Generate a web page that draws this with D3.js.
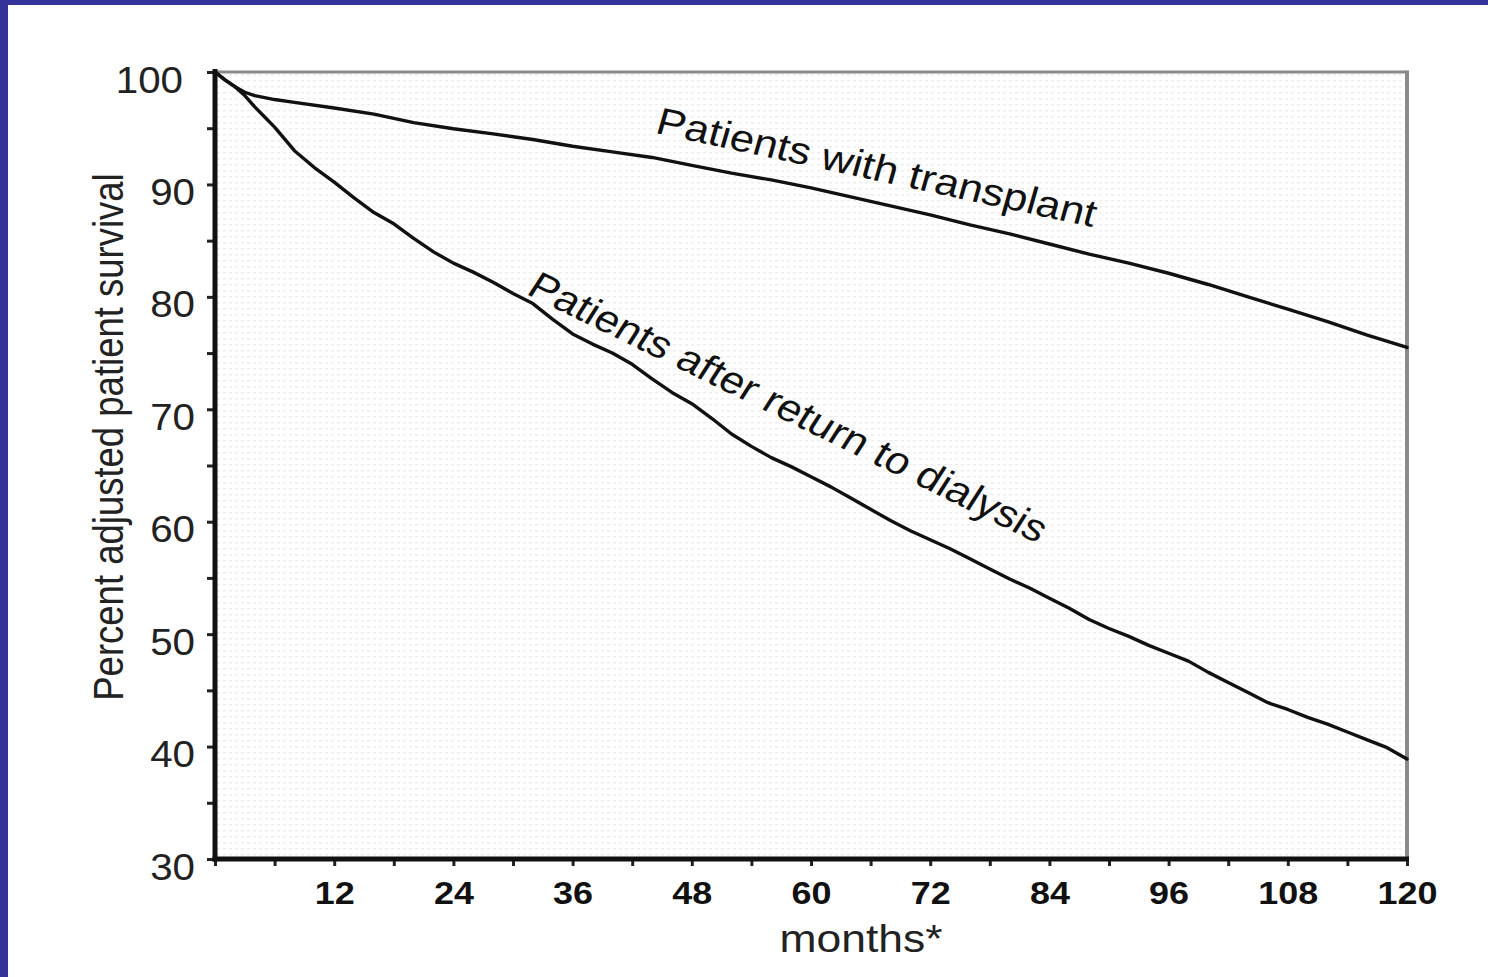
<!DOCTYPE html>
<html>
<head>
<meta charset="utf-8">
<script src="https://cdn.jsdelivr.net/npm/d3@7/dist/d3.min.js"></script>
<style>
  html, body { margin: 0; padding: 0; background: #fff; }
  svg { display: block; }
  text { font-family: "Liberation Sans", Arial, sans-serif; }
</style>
</head>
<body>
<svg id="chart" width="1488" height="977"></svg>
<script>
// ---- data ----
const transplantMonths   = [0, 1, 2, 3, 4, 6, 8, 12, 16, 20, 24, 28, 32, 36, 40, 44, 48, 52, 56, 60, 64, 68, 72, 76, 80, 84, 88, 92, 96, 100, 104, 108, 112, 116, 120];
const transplantSurvival = [100, 99.3, 98.7, 98.2, 97.9, 97.55, 97.3, 96.8, 96.25, 95.5, 94.95, 94.5, 94.0, 93.4, 92.9, 92.4, 91.7, 91.0, 90.4, 89.7, 88.9, 88.1, 87.3, 86.4, 85.6, 84.7, 83.8, 83.0, 82.1, 81.1, 80.0, 78.9, 77.8, 76.6, 75.5];

const dialysisMonths   = [0, 1, 2, 3, 4, 5, 6, 8, 10, 12, 14, 16, 18, 20, 22, 24, 26, 28, 30, 32, 34, 36, 38, 40, 42, 44, 46, 48, 50, 52, 54, 56, 58, 60, 62, 64, 66, 68, 70, 72, 74, 76, 78, 80, 82, 84, 86, 88, 90, 92, 94, 96, 98, 100, 102, 104, 106, 108, 110, 112, 114, 116, 118, 120];
const dialysisSurvival = [100, 99.3, 98.7, 97.9, 96.9, 96.0, 95.1, 93.0, 91.5, 90.2, 88.8, 87.5, 86.5, 85.2, 84.0, 83.0, 82.2, 81.3, 80.3, 79.4, 78.0, 76.7, 75.8, 75.0, 74.0, 72.7, 71.5, 70.5, 69.2, 67.8, 66.7, 65.7, 64.9, 64.0, 63.1, 62.1, 61.1, 60.1, 59.2, 58.4, 57.6, 56.7, 55.8, 54.9, 54.1, 53.2, 52.3, 51.3, 50.5, 49.8, 49.0, 48.3, 47.6, 46.6, 45.7, 44.8, 43.9, 43.3, 42.6, 42.0, 41.3, 40.6, 39.9, 38.9];

const seriesNames = ["Patients with transplant", "Patients after return to dialysis"];

const xTickLabels = [12, 24, 36, 48, 60, 72, 84, 96, 108, 120];
const xTickMarks  = [0, 6, 12, 18, 24, 30, 36, 42, 48, 54, 60, 66, 72, 78, 84, 90, 96, 102, 108, 114, 120];
const yTickLabels = [30, 40, 50, 60, 70, 80, 90, 100];
const yTickMarks  = [30, 35, 40, 45, 50, 55, 60, 65, 70, 75, 80, 85, 90, 95, 100];

const xTitle = "months*";
const yTitle = "Percent adjusted patient survival";

// ---- layout ----
const SX = 1.15; // horizontal stretch of the original picture
const svg = d3.select("#chart");
const pLeft = 215, pRight = 1407, pTop = 72, pBottom = 859;

const x = d3.scaleLinear().domain([0, 120]).range([pLeft, pRight]);
const y = d3.scaleLinear().domain([30, 100]).range([pBottom, pTop]);

// blue frame
svg.append("rect").attr("x", 0).attr("y", 0).attr("width", 8).attr("height", 977).attr("fill", "#333399");
svg.append("rect").attr("x", 0).attr("y", 0).attr("width", 1488).attr("height", 5).attr("fill", "#333399");

// dotted plot background
const defs = svg.append("defs");
const pat = defs.append("pattern").attr("id", "dots").attr("patternUnits", "userSpaceOnUse")
  .attr("width", 6).attr("height", 6);
pat.append("rect").attr("width", 6).attr("height", 6).attr("fill", "#ffffff");
pat.append("rect").attr("x", 1).attr("y", 2).attr("width", 3).attr("height", 1.5).attr("fill", "#ededed");
svg.append("rect").attr("x", pLeft).attr("y", pTop).attr("width", pRight - pLeft).attr("height", pBottom - pTop)
  .attr("fill", "url(#dots)");

// grey top and right frame
svg.append("line").attr("x1", pLeft).attr("x2", pRight).attr("y1", pTop).attr("y2", pTop)
  .attr("stroke", "#8a8a8a").attr("stroke-width", 3);
svg.append("line").attr("x1", pRight).attr("x2", pRight).attr("y1", pTop - 1.5).attr("y2", pBottom)
  .attr("stroke", "#8a8a8a").attr("stroke-width", 4);

// y axis
const yAxisG = svg.append("g").attr("transform", `translate(${pLeft},0)`)
  .call(d3.axisLeft(y).tickValues(yTickMarks).tickSize(8).tickFormat(""));
yAxisG.select(".domain").remove();
yAxisG.selectAll(".tick line").attr("stroke", "#222").attr("stroke-width", 3);

const yLab = svg.append("g").attr("transform", `translate(${pLeft},0)`)
  .call(d3.axisLeft(y).tickValues(yTickLabels).tickSize(0).tickFormat(d3.format("d")));
yLab.select(".domain").remove();
yLab.selectAll(".tick line").remove();
yLab.selectAll(".tick text")
  .attr("x", 0).attr("dy", null).attr("y", 0)
  .attr("transform", d => `translate(${d >= 100 ? -32 : -20},20) scale(1.09,1)`)
  .attr("text-anchor", "end")
  .attr("font-size", 37).attr("fill", "#222")
  .style("font-family", "'Liberation Sans', Arial, sans-serif");

// x axis
const xAxisG = svg.append("g").attr("transform", `translate(0,${pBottom})`)
  .call(d3.axisBottom(x).tickValues(xTickMarks).tickSize(7).tickFormat(""));
xAxisG.select(".domain").remove();
xAxisG.selectAll(".tick line").attr("stroke", "#222").attr("stroke-width", 3);

const xLab = svg.append("g").attr("transform", `translate(0,${pBottom})`)
  .call(d3.axisBottom(x).tickValues(xTickLabels).tickSize(0).tickFormat(d3.format("d")));
xLab.select(".domain").remove();
xLab.selectAll(".tick line").remove();
xLab.selectAll(".tick text")
  .attr("y", 0).attr("dy", null)
  .attr("transform", `translate(0,45) scale(1.16,1)`)
  .attr("text-anchor", "middle")
  .attr("font-size", 31).attr("font-weight", "bold").attr("fill", "#111")
  .style("font-family", "'Liberation Sans', Arial, sans-serif");

// axis lines (thick black)
svg.append("line").attr("x1", pLeft).attr("x2", pLeft).attr("y1", pTop - 3).attr("y2", pBottom + 2.5)
  .attr("stroke", "#111").attr("stroke-width", 5);
svg.append("line").attr("x1", pLeft - 2.5).attr("x2", pRight + 2).attr("y1", pBottom).attr("y2", pBottom)
  .attr("stroke", "#111").attr("stroke-width", 5);

// axis titles
svg.append("text").text(xTitle)
  .attr("transform", `translate(861,952) scale(1.17,1)`)
  .attr("text-anchor", "middle").attr("font-size", 38).attr("fill", "#222");
svg.append("text").text(yTitle)
  .attr("transform", `translate(123,437) scale(1.15,1) rotate(-90)`)
  .attr("text-anchor", "middle").attr("font-size", 36.5).attr("fill", "#222");

// curves
const line = d3.line().x(d => x(d[0])).y(d => y(d[1]));
const tData = transplantMonths.map((m, i) => [m, transplantSurvival[i]]);
const dData = dialysisMonths.map((m, i) => [m, dialysisSurvival[i]]);
[tData, dData].forEach(data => {
  svg.append("path").datum(data).attr("d", line)
    .attr("fill", "none").attr("stroke", "#111").attr("stroke-width", 3.4)
    .attr("stroke-linejoin", "round").attr("stroke-linecap", "round");
});

// curve labels
const labelSpecs = [
  { name: seriesNames[0], m: 44.2, v: 94.6, angle: 13.9 },
  { name: seriesNames[1], m: 31.2, v: 80.3, angle: 29.3 }
];
labelSpecs.forEach(s => {
  svg.append("text").text(s.name)
    .attr("transform", `translate(${x(s.m)},${y(s.v)}) scale(${SX},1) rotate(${s.angle})`)
    .attr("font-size", 38).attr("fill", "#111");
});
</script>
</body>
</html>
